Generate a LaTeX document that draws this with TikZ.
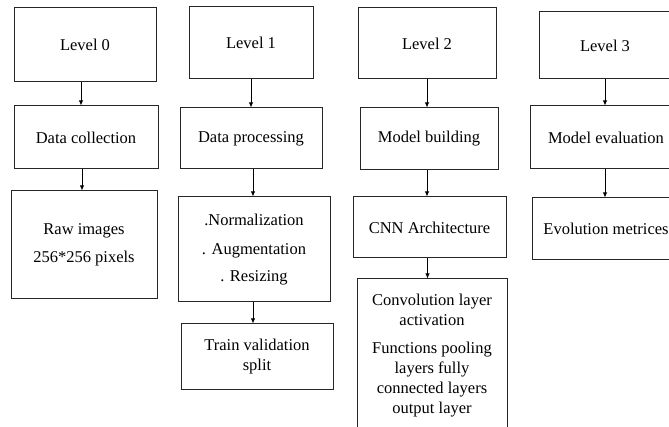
\documentclass[tikz,border=0pt]{standalone}
\usepackage{fontspec}
\setmainfont{Liberation Serif}
\usetikzlibrary{arrows.meta}
\begin{document}
\begin{tikzpicture}[
x=1pt, y=-1pt,
box/.style={rectangle, draw=black!85, line width=1pt, align=center, inner sep=2pt,
    font=\rmfamily\fontsize{16.5}{20}\selectfont},
flow/.style={draw=black, line width=0.9pt, -{Latex[length=5pt,width=4.5pt]}},
]
\clip (0,0) rectangle (669,427);
% column 0
\node[box, minimum width=142, minimum height=74] (lvl0) at (85,45) {Level 0};
\node[box, minimum width=144, minimum height=63] (collect) at (86,137.5) {Data collection};
\node[box, minimum width=146, minimum height=108] (raw) at (84,245) {Raw images\\[8pt]256*256 pixels};
% column 1
\node[box, minimum width=124, minimum height=72] (lvl1) at (251,43) {Level 1};
\node[box, minimum width=142, minimum height=61] (process) at (251,138.5) {Data processing};
\node[box, minimum width=152, minimum height=105] (prep) at (254,249.5)
    {.Normalization\\[9pt]. Augmentation\\[7pt]. Resizing};
\node[box, minimum width=152, minimum height=65] (split) at (257,356.5) {Train validation\\split};
% column 2
\node[box, minimum width=138, minimum height=71] (lvl2) at (427,43.5) {Level 2};
\node[box, minimum width=138, minimum height=62] (build) at (429,139) {Model building};
\node[box, minimum width=153, minimum height=61] (cnn) at (429.5,227.5) {CNN Architecture};
\node[box, minimum width=150, minimum height=153] (layers) at (432,355.5)
    {Convolution layer\\activation\\[8pt]Functions pooling\\layers fully\\connected layers\\output layer};
% column 3
\node[box, minimum width=132, minimum height=67] (lvl3) at (605,45.5) {Level 3};
\node[box, minimum width=152, minimum height=63] (evaluate) at (606,137.5) {Model evaluation};
\node[box, minimum width=148, minimum height=62] (metrics) at (606,229) {Evolution metrices};

\draw[flow] ([xshift=-4pt]lvl0.south) -- ([xshift=-4pt]lvl0.south |- collect.north);
\draw[flow] ([xshift=-4pt]collect.south) -- ([xshift=-4pt]collect.south |- raw.north);
\draw[flow] (lvl1.south) -- (lvl1.south |- process.north);
\draw[flow] ([xshift=2pt]process.south) -- ([xshift=2pt]process.south |- prep.north);
\draw[flow] ([xshift=-1pt]prep.south) -- ([xshift=-1pt]prep.south |- split.north);
\draw[flow] (lvl2.south) -- (lvl2.south |- build.north);
\draw[flow] ([xshift=-2pt]build.south) -- ([xshift=-2pt]build.south |- cnn.north);
\draw[flow] ([xshift=-2pt]cnn.south) -- ([xshift=-2pt]cnn.south |- layers.north);
\draw[flow] (lvl3.south) -- (lvl3.south |- evaluate.north);
\draw[flow] ([xshift=-1pt]evaluate.south) -- ([xshift=-1pt]evaluate.south |- metrics.north);
\end{tikzpicture}
\end{document}
